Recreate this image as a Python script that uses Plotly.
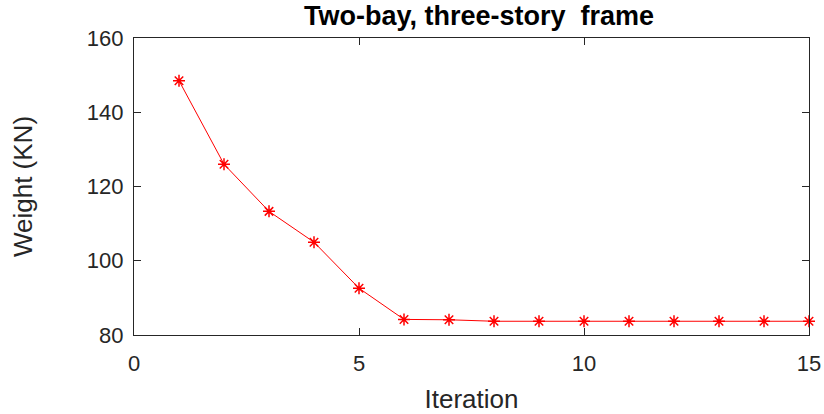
import plotly.graph_objects as go

iterations = list(range(1, 16))
weight_kn = [148.5, 126.0, 113.3, 105.0, 92.6, 84.2, 84.1, 83.7, 83.7, 83.7,
             83.7, 83.7, 83.7, 83.7, 83.7]

x_ticks = [0, 5, 10, 15]
y_ticks = [80, 100, 120, 140, 160]

FONT = 'Liberation Sans, Arial, sans-serif'
INK = '#262626'

fig = go.Figure()
fig.add_trace(go.Scatter(
    x=iterations, y=weight_kn, mode='lines+markers',
    line=dict(color='#ff0000', width=1),
    marker=dict(symbol='asterisk-open', size=10, color='#ff0000',
                line=dict(color='#ff0000', width=1.5)),
    cliponaxis=False, showlegend=False,
))

axis_common = dict(
    showgrid=False, zeroline=False, showline=True, mirror='ticks',
    linecolor=INK, linewidth=1.3, ticks='inside', ticklen=7,
    tickcolor=INK, tickwidth=1.3, automargin=False,
    tickfont=dict(family=FONT, size=22, color=INK),
)

fig.update_xaxes(range=[0, 15], tickvals=x_ticks, ticklabelstandoff=8,
                 title=dict(text='Iteration', standoff=15,
                            font=dict(family=FONT, size=26, color=INK)),
                 **axis_common)
fig.update_yaxes(range=[80, 160], tickvals=y_ticks, ticklabelstandoff=5,
                 title=dict(text='Weight (KN)', standoff=46,
                            font=dict(family=FONT, size=26, color=INK)),
                 **axis_common)

fig.update_layout(
    width=824, height=414, autosize=False,
    margin=dict(l=134, r=15, t=38, b=79, autoexpand=False),
    paper_bgcolor='white', plot_bgcolor='white',
    title=dict(text='<b>Two-bay, three-story&nbsp; frame</b>',
               x=479 / 824, xanchor='center',
               y=1 - 16 / 414, yanchor='middle',
               font=dict(family=FONT, size=27, color='black')),
)

# drop the default body margin / scrollbars so the figure fills the window exactly
fig.write_html(
    "out.html",
    config={'displayModeBar': False},
    post_script="document.body.style.margin='0';"
                "document.documentElement.style.overflow='hidden';",
)
